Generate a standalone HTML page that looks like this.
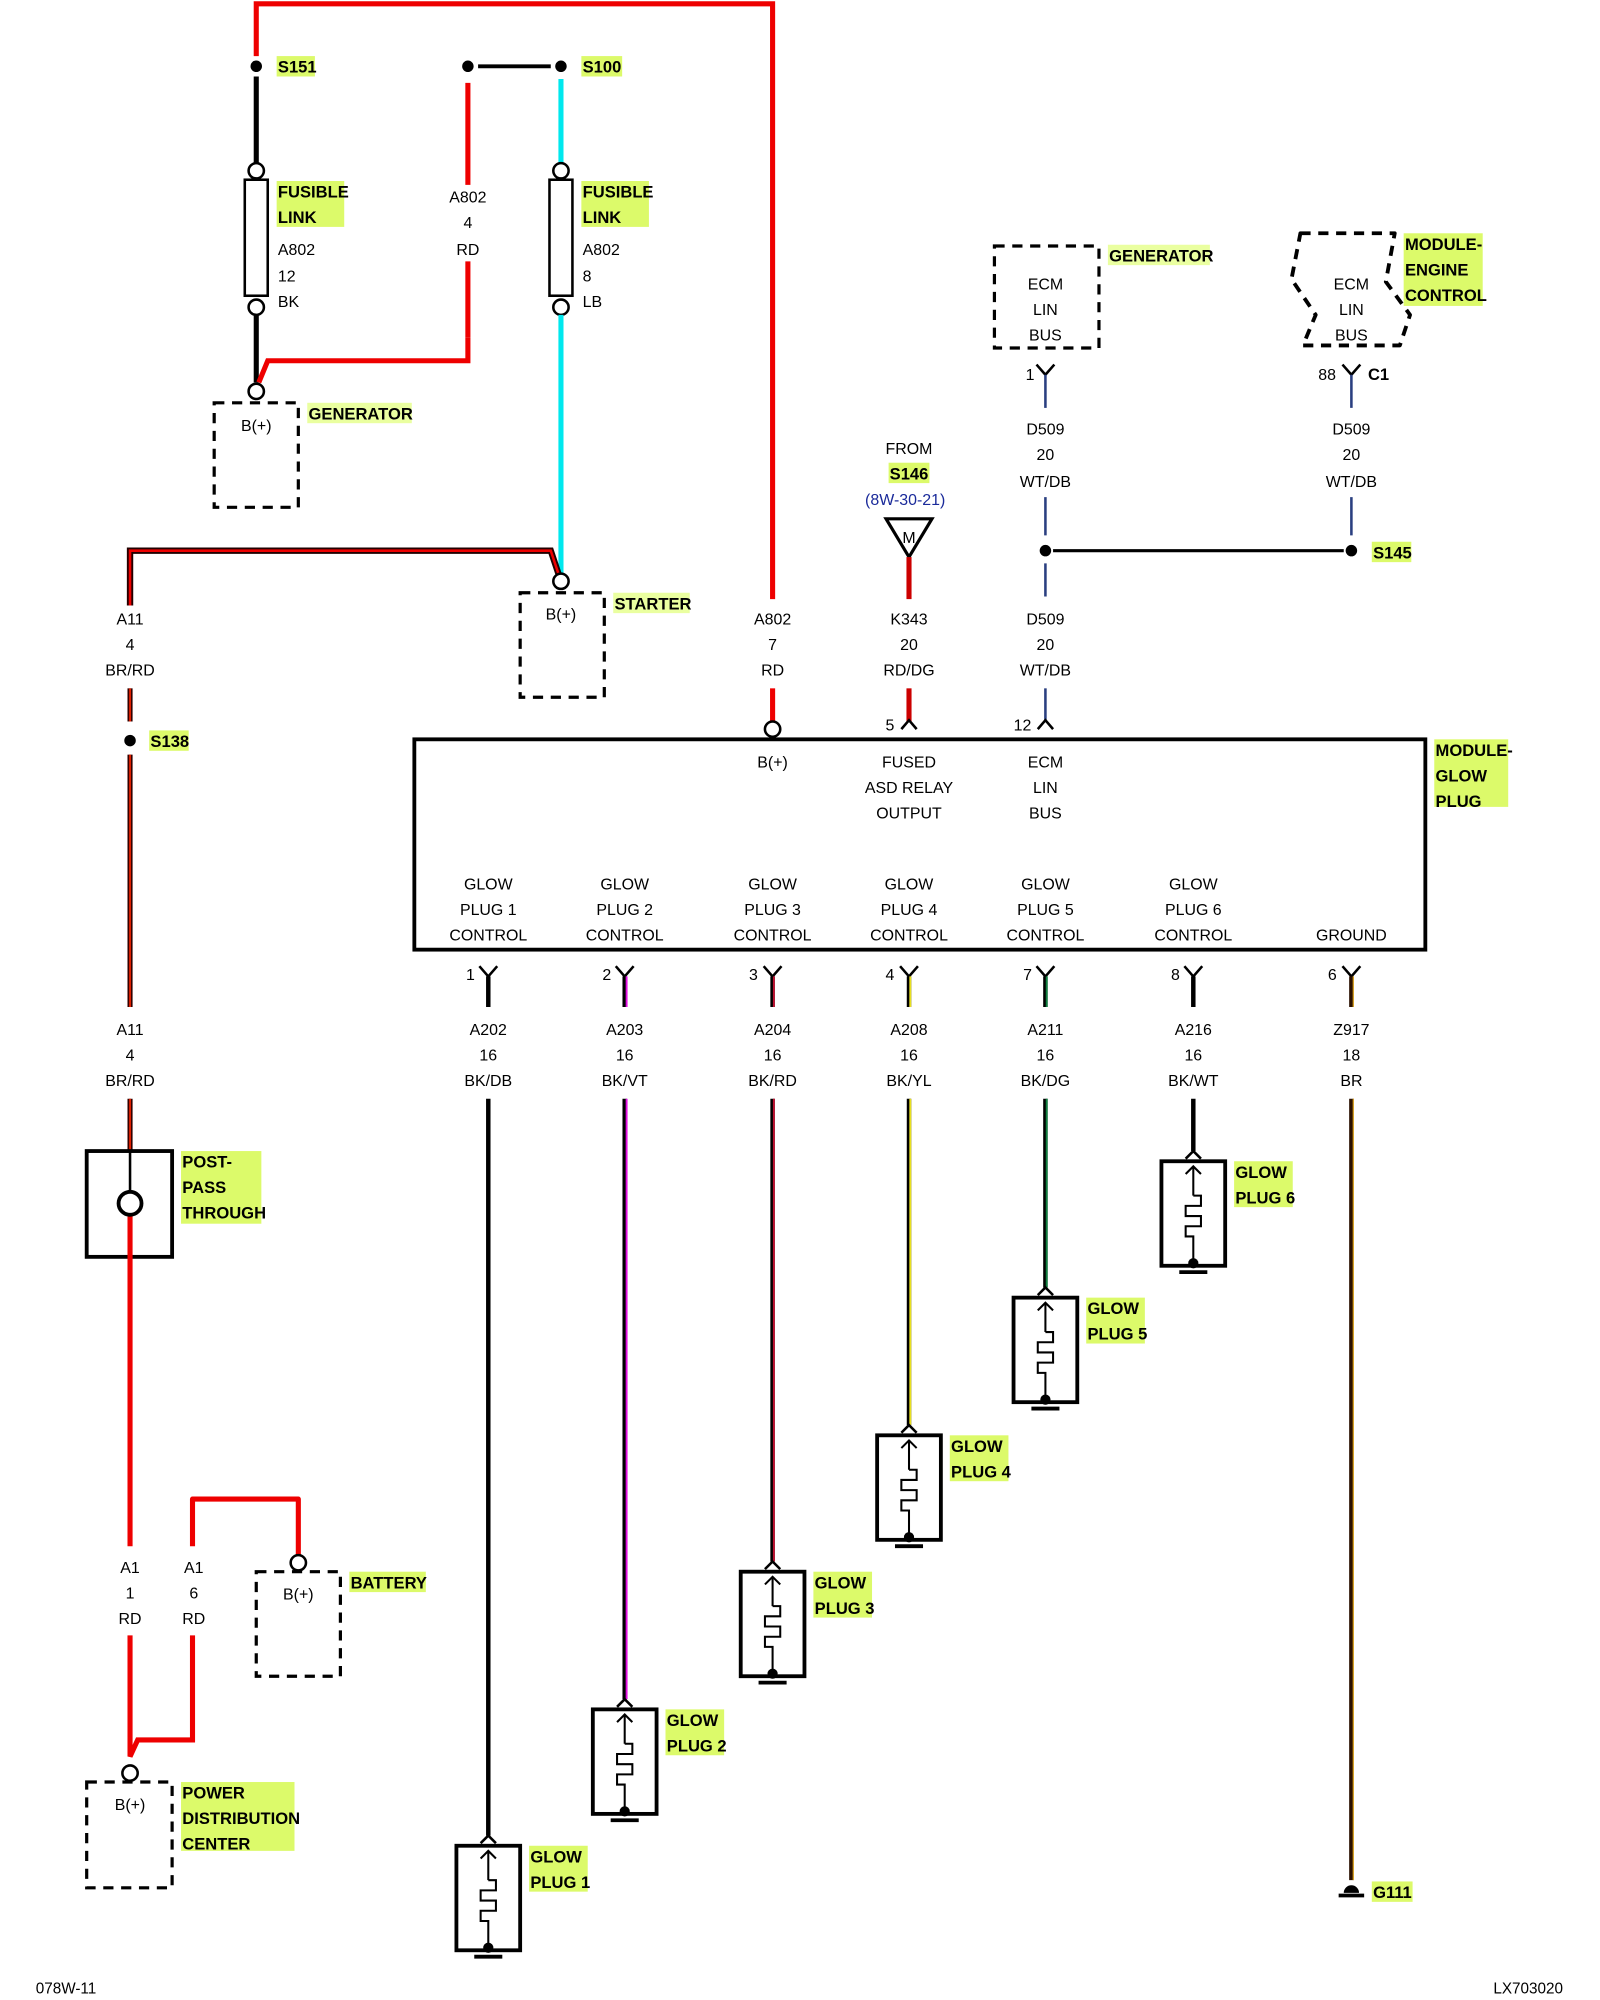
<!DOCTYPE html>
<html><head><meta charset="utf-8"><style>
html,body{margin:0;padding:0;background:#fff;}
svg{display:block;}
text{font-family:"Liberation Sans",sans-serif;}
.l{font-size:12.5px;text-anchor:middle;fill:#000;}
.ls{font-size:12.5px;fill:#000;}
.h{font-size:13px;font-weight:bold;fill:#000;}
.hb{fill:#dcfa6a;}
</style></head><body>
<svg width="1600" height="2000" viewBox="0 0 1255 1569" preserveAspectRatio="none" xmlns="http://www.w3.org/2000/svg">
<defs>
<g id="gp" fill="none" stroke="#000">
  <path d="M-6,-2 L0,-8 L6,-2" stroke-width="2"/>
  <rect x="-25" y="0" width="50" height="82" stroke-width="3"/>
  <path d="M0,4 V27 M-6,10 L0,4 L6,10" stroke-width="1.6"/>
  <path d="M0,27 h6 v8 h-12 v8 h12 v8 h-12 v8 h6 V80" stroke-width="1.6"/>
  <circle cx="0" cy="80" r="4" fill="#000" stroke="none"/>
  <path d="M-11,87 H11" stroke-width="3"/>
</g>
<g id="yc" fill="none" stroke="#000" stroke-width="2"><path d="M-7,-6 L0,2 L7,-6"/></g>
<g id="ac" fill="none" stroke="#000" stroke-width="2"><path d="M-6,4 L0,-3 L6,4"/></g>
</defs>

<path d="M201,44 V3 H606 V470" fill="none" stroke="#e00" stroke-width="4"/>
<path d="M606,540 V566" fill="none" stroke="#e00" stroke-width="4"/>
<circle cx="606" cy="572" r="6" fill="#fff" stroke="#000" stroke-width="2"/>

<circle cx="201" cy="52" r="4.5" fill="#000"/>
<rect x="217" y="44" width="30" height="16" class="hb"/><text x="218" y="57" class="h">S151</text>
<path d="M201,60 V128" stroke="#000" stroke-width="4"/>
<circle cx="201" cy="134" r="6" fill="#fff" stroke="#000" stroke-width="2"/>
<rect x="192" y="141" width="18" height="91" fill="#fff" stroke="#000" stroke-width="2"/>
<circle cx="201" cy="241" r="6" fill="#fff" stroke="#000" stroke-width="2"/>
<path d="M201,247 V300" stroke="#000" stroke-width="4"/>
<rect x="217" y="142" width="53" height="36" class="hb"/>
<text x="218" y="155" class="h">FUSIBLE</text><text x="218" y="175" class="h">LINK</text>
<text x="218" y="200" class="ls">A802</text><text x="218" y="221" class="ls">12</text><text x="218" y="241" class="ls">BK</text>
<path d="M203,300 L210,283 H367 V265" fill="none" stroke="#e00" stroke-width="4"/>
<path d="M367,205 V265" stroke="#e00" stroke-width="4"/>
<path d="M367,65 V145" stroke="#e00" stroke-width="4"/>
<text x="367" y="159" class="l">A802</text><text x="367" y="179" class="l">4</text><text x="367" y="200" class="l">RD</text>
<circle cx="201" cy="307" r="6" fill="#fff" stroke="#000" stroke-width="2"/>
<rect x="168" y="316" width="66" height="82" fill="none" stroke="#000" stroke-width="2.5" stroke-dasharray="8,6"/>
<text x="201" y="338" class="l">B(+)</text>
<rect x="241" y="316" width="82" height="16" fill="#eaffa0"/><text x="242" y="329" class="h">GENERATOR</text>

<circle cx="367" cy="52" r="4.5" fill="#000"/>
<path d="M375,52 H432" stroke="#000" stroke-width="3"/>
<circle cx="440" cy="52" r="4.5" fill="#000"/>
<rect x="456" y="44" width="32" height="16" class="hb"/><text x="457" y="57" class="h">S100</text>
<path d="M440,62 V128" stroke="#00e8ee" stroke-width="4"/>
<circle cx="440" cy="134" r="6" fill="#fff" stroke="#000" stroke-width="2"/>
<rect x="431" y="141" width="18" height="91" fill="#fff" stroke="#000" stroke-width="2"/>
<circle cx="440" cy="241" r="6" fill="#fff" stroke="#000" stroke-width="2"/>
<path d="M440,247 V450" stroke="#00e8ee" stroke-width="4"/>
<rect x="456" y="142" width="53" height="36" class="hb"/>
<text x="457" y="155" class="h">FUSIBLE</text><text x="457" y="175" class="h">LINK</text>
<text x="457" y="200" class="ls">A802</text><text x="457" y="221" class="ls">8</text><text x="457" y="241" class="ls">LB</text>

<path d="M102,475 V432 H432 L438,450" fill="none" stroke="#200" stroke-width="5"/>
<path d="M102,475 V432 H432 L438,450" fill="none" stroke="#e00" stroke-width="2"/>
<circle cx="440" cy="456" r="6" fill="#fff" stroke="#000" stroke-width="2"/>
<rect x="408" y="465" width="66" height="82" fill="none" stroke="#000" stroke-width="2.5" stroke-dasharray="8,6"/>
<text x="440" y="486" class="l">B(+)</text>
<rect x="481" y="465" width="60" height="16" fill="#eaffa0"/><text x="482" y="478" class="h">STARTER</text>
<text x="102" y="490" class="l">A11</text><text x="102" y="510" class="l">4</text><text x="102" y="530" class="l">BR/RD</text>
<text x="606" y="490" class="l">A802</text><text x="606" y="510" class="l">7</text><text x="606" y="530" class="l">RD</text>
<path d="M102,540 V566" stroke="#300" stroke-width="4"/><path d="M102,540 V566" stroke="#e02000" stroke-width="1.5"/>
<circle cx="102" cy="581" r="4.5" fill="#000"/>
<rect x="117" y="573" width="31" height="16" class="hb"/><text x="118" y="586" class="h">S138</text>
<path d="M102,592 V790" stroke="#300" stroke-width="4"/><path d="M102,592 V790" stroke="#e02000" stroke-width="1.5"/>
<text x="102" y="812" class="l">A11</text><text x="102" y="832" class="l">4</text><text x="102" y="852" class="l">BR/RD</text>
<path d="M102,862 V903" stroke="#300" stroke-width="4"/><path d="M102,862 V903" stroke="#e02000" stroke-width="1.5"/>
<rect x="68" y="903" width="67" height="83" fill="none" stroke="#000" stroke-width="3"/>
<path d="M102,903 V935" stroke="#000" stroke-width="2"/>
<path d="M102,953 V1213" stroke="#e00" stroke-width="4"/>
<circle cx="102" cy="944" r="9" fill="#fff" stroke="#000" stroke-width="3"/>
<rect x="142" y="903" width="63" height="57" class="hb"/>
<text x="143" y="916" class="h">POST-</text><text x="143" y="936" class="h">PASS</text><text x="143" y="956" class="h">THROUGH</text>

<text x="102" y="1234" class="l">A1</text><text x="102" y="1254" class="l">1</text><text x="102" y="1274" class="l">RD</text>
<text x="152" y="1234" class="l">A1</text><text x="152" y="1254" class="l">6</text><text x="152" y="1274" class="l">RD</text>
<path d="M151,1213 V1176 H234 V1220" fill="none" stroke="#e00" stroke-width="4" stroke-linejoin="round"/>
<circle cx="234" cy="1226" r="6" fill="#fff" stroke="#000" stroke-width="2"/>
<rect x="201" y="1233" width="66" height="82" fill="none" stroke="#000" stroke-width="2.5" stroke-dasharray="8,6"/>
<text x="234" y="1255" class="l">B(+)</text>
<rect x="274" y="1233" width="60" height="16" class="hb"/><text x="275" y="1246" class="h">BATTERY</text>
<path d="M102,1283 V1378 L108,1365 H151 V1283" fill="none" stroke="#e00" stroke-width="4"/>
<circle cx="102" cy="1391" r="6" fill="#fff" stroke="#000" stroke-width="2"/>
<rect x="68" y="1398" width="67" height="83" fill="none" stroke="#000" stroke-width="2.5" stroke-dasharray="8,6"/>
<text x="102" y="1420" class="l">B(+)</text>
<rect x="142" y="1398" width="89" height="54" class="hb"/>
<text x="143" y="1411" class="h">POWER</text><text x="143" y="1431" class="h">DISTRIBUTION</text><text x="143" y="1451" class="h">CENTER</text>

<text x="713" y="356" class="l">FROM</text>
<rect x="697" y="363" width="32" height="16" class="hb"/><text x="713" y="376" class="h" text-anchor="middle">S146</text>
<text x="710" y="396" class="l" style="fill:#1a2a9a">(8W-30-21)</text>
<path d="M695,407 H731 L713,437 Z" fill="#fff" stroke="#000" stroke-width="2.5"/>
<text x="713" y="426" class="l">M</text>
<path d="M713,437 V470" stroke="#c00" stroke-width="4"/>
<text x="713" y="490" class="l">K343</text><text x="713" y="510" class="l">20</text><text x="713" y="530" class="l">RD/DG</text>
<path d="M713,540 V566" stroke="#c00" stroke-width="4"/>
<use href="#ac" x="713" y="568"/><text x="698" y="573" class="l">5</text>

<rect x="780" y="193" width="82" height="80" fill="none" stroke="#000" stroke-width="2.5" stroke-dasharray="8,6"/>
<text x="820" y="227" class="l">ECM</text><text x="820" y="247" class="l">LIN</text><text x="820" y="267" class="l">BUS</text>
<rect x="869" y="192" width="80" height="16" fill="#eaffa0"/><text x="870" y="205" class="h">GENERATOR</text>
<use href="#yc" x="820" y="292"/><text x="808" y="298" class="l">1</text>
<path d="M820,294 V320" stroke="#2a3f80" stroke-width="2"/>
<text x="820" y="341" class="l">D509</text><text x="820" y="361" class="l">20</text><text x="820" y="382" class="l">WT/DB</text>
<path d="M820,390 V420 M820,442 V468" stroke="#2a3f80" stroke-width="2"/>
<circle cx="820" cy="432" r="4.5" fill="#000"/>
<path d="M826,432 H1054" stroke="#000" stroke-width="2.5"/>
<circle cx="1060" cy="432" r="4.5" fill="#000"/>
<rect x="1076" y="425" width="31" height="16" class="hb"/><text x="1077" y="438" class="h">S145</text>
<text x="820" y="490" class="l">D509</text><text x="820" y="510" class="l">20</text><text x="820" y="530" class="l">WT/DB</text>
<path d="M820,540 V566" stroke="#2a3f80" stroke-width="2"/>
<use href="#ac" x="820" y="568"/><text x="802" y="573" class="l">12</text>

<path d="M1020,183 H1094 L1087,221 L1106,247 L1098,271 H1022 L1032,247 L1013,219 Z" fill="none" stroke="#000" stroke-width="3" stroke-dasharray="8,6" stroke-linejoin="round"/>
<text x="1060" y="227" class="l">ECM</text><text x="1060" y="247" class="l">LIN</text><text x="1060" y="267" class="l">BUS</text>
<rect x="1101" y="183" width="62" height="57" class="hb"/>
<text x="1102" y="196" class="h">MODULE-</text><text x="1102" y="216" class="h">ENGINE</text><text x="1102" y="236" class="h">CONTROL</text>
<use href="#yc" x="1060" y="292"/><text x="1041" y="298" class="l">88</text><text x="1073" y="298" class="h">C1</text>
<path d="M1060,294 V320 M1060,390 V420" stroke="#2a3f80" stroke-width="2"/>
<text x="1060" y="341" class="l">D509</text><text x="1060" y="361" class="l">20</text><text x="1060" y="382" class="l">WT/DB</text>

<rect x="325" y="580" width="793" height="165" fill="none" stroke="#000" stroke-width="3"/>
<rect x="1125" y="580" width="58" height="53" class="hb"/>
<text x="1126" y="593" class="h">MODULE-</text><text x="1126" y="613" class="h">GLOW</text><text x="1126" y="633" class="h">PLUG</text>
<text x="606" y="602" class="l">B(+)</text>
<text x="713" y="602" class="l">FUSED</text><text x="713" y="622" class="l">ASD RELAY</text><text x="713" y="642" class="l">OUTPUT</text>
<text x="820" y="602" class="l">ECM</text><text x="820" y="622" class="l">LIN</text><text x="820" y="642" class="l">BUS</text>
<g class="l">
<text x="383" y="698">GLOW</text><text x="383" y="718">PLUG 1</text><text x="383" y="738">CONTROL</text>
<text x="490" y="698">GLOW</text><text x="490" y="718">PLUG 2</text><text x="490" y="738">CONTROL</text>
<text x="606" y="698">GLOW</text><text x="606" y="718">PLUG 3</text><text x="606" y="738">CONTROL</text>
<text x="713" y="698">GLOW</text><text x="713" y="718">PLUG 4</text><text x="713" y="738">CONTROL</text>
<text x="820" y="698">GLOW</text><text x="820" y="718">PLUG 5</text><text x="820" y="738">CONTROL</text>
<text x="936" y="698">GLOW</text><text x="936" y="718">PLUG 6</text><text x="936" y="738">CONTROL</text>
<text x="1060" y="738">GROUND</text>
</g>

<g>
<use href="#yc" x="383" y="764"/><text x="369" y="769" class="l">1</text>
<use href="#yc" x="490" y="764"/><text x="476" y="769" class="l">2</text>
<use href="#yc" x="606" y="764"/><text x="591" y="769" class="l">3</text>
<use href="#yc" x="713" y="764"/><text x="698" y="769" class="l">4</text>
<use href="#yc" x="820" y="764"/><text x="806" y="769" class="l">7</text>
<use href="#yc" x="936" y="764"/><text x="922" y="769" class="l">8</text>
<use href="#yc" x="1060" y="764"/><text x="1045" y="769" class="l">6</text>
</g>
<g class="l">
<text x="383" y="812">A202</text><text x="383" y="832">16</text><text x="383" y="852">BK/DB</text>
<text x="490" y="812">A203</text><text x="490" y="832">16</text><text x="490" y="852">BK/VT</text>
<text x="606" y="812">A204</text><text x="606" y="832">16</text><text x="606" y="852">BK/RD</text>
<text x="713" y="812">A208</text><text x="713" y="832">16</text><text x="713" y="852">BK/YL</text>
<text x="820" y="812">A211</text><text x="820" y="832">16</text><text x="820" y="852">BK/DG</text>
<text x="936" y="812">A216</text><text x="936" y="832">16</text><text x="936" y="852">BK/WT</text>
<text x="1060" y="812">Z917</text><text x="1060" y="832">18</text><text x="1060" y="852">BR</text>
</g>
<g stroke-width="3.5">
<path d="M383,766 V790 M383,862 V1440" stroke="#000"/>
<path d="M490,766 V790 M490,862 V1333" stroke="#000"/><path d="M491.5,766 V790 M491.5,862 V1333" stroke="#e010e0" stroke-width="1.5"/>
<path d="M606,766 V790 M606,862 V1225" stroke="#000"/><path d="M607,766 V790 M607,862 V1225" stroke="#c01030" stroke-width="1.5"/>
<path d="M713,766 V790 M713,862 V1118" stroke="#000"/><path d="M714,766 V790 M714,862 V1118" stroke="#e8e020" stroke-width="1.5"/>
<path d="M820,766 V790 M820,862 V1010" stroke="#000"/><path d="M821,766 V790 M821,862 V1010" stroke="#108040" stroke-width="1.5"/>
<path d="M936,766 V790 M936,862 V903" stroke="#000"/>
<path d="M1060,766 V790 M1060,862 V1475" stroke="#2a1000"/><path d="M1061.5,766 V790 M1061.5,862 V1475" stroke="#d8a020" stroke-width="1"/>
</g>
<use href="#gp" x="383" y="1448"/>
<use href="#gp" x="490" y="1341"/>
<use href="#gp" x="606" y="1233"/>
<use href="#gp" x="713" y="1126"/>
<use href="#gp" x="820" y="1018"/>
<use href="#gp" x="936" y="911"/>
<rect x="415" y="1448" width="46" height="36" class="hb"/><text x="416" y="1461" class="h">GLOW</text><text x="416" y="1481" class="h">PLUG 1</text>
<rect x="522" y="1341" width="46" height="36" class="hb"/><text x="523" y="1354" class="h">GLOW</text><text x="523" y="1374" class="h">PLUG 2</text>
<rect x="638" y="1233" width="46" height="36" class="hb"/><text x="639" y="1246" class="h">GLOW</text><text x="639" y="1266" class="h">PLUG 3</text>
<rect x="745" y="1126" width="46" height="36" class="hb"/><text x="746" y="1139" class="h">GLOW</text><text x="746" y="1159" class="h">PLUG 4</text>
<rect x="852" y="1018" width="46" height="36" class="hb"/><text x="853" y="1031" class="h">GLOW</text><text x="853" y="1051" class="h">PLUG 5</text>
<rect x="968" y="911" width="46" height="36" class="hb"/><text x="969" y="924" class="h">GLOW</text><text x="969" y="944" class="h">PLUG 6</text>

<path d="M1054,1485 a6,6 0 0 1 12,0 Z" fill="#000"/>
<path d="M1050,1487 H1070" stroke="#000" stroke-width="3"/>
<rect x="1076" y="1476" width="32" height="16" class="hb"/><text x="1077" y="1489" class="h">G111</text>

<text x="28" y="1564" class="ls" style="font-size:12px">078W-11</text>
<text x="1226" y="1564" class="ls" style="font-size:12px;text-anchor:end">LX703020</text>
</svg>
</body></html>
